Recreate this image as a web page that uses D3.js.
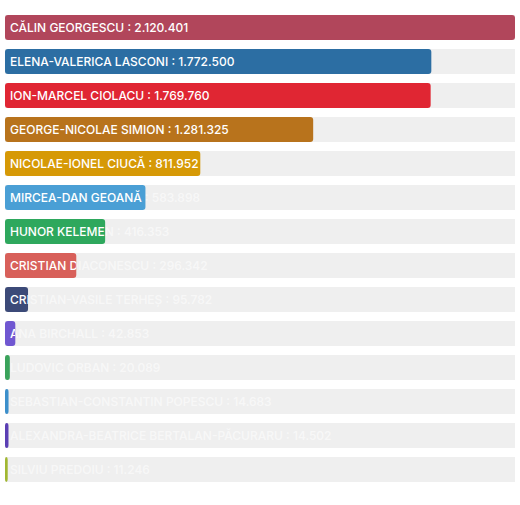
<!DOCTYPE html>
<html>
<head>
<meta charset="utf-8">
<script src="https://cdn.jsdelivr.net/npm/d3@7"></script>
<style>
  body { margin: 0; background: #fff; }
  svg { display: block; }
</style>
</head>
<body>
<svg width="520" height="505"></svg>
<script>
// candidates, votes, bar colours (top to bottom)
var names = [
  "CĂLIN GEORGESCU", "ELENA-VALERICA LASCONI", "ION-MARCEL CIOLACU",
  "GEORGE-NICOLAE SIMION", "NICOLAE-IONEL CIUCĂ", "MIRCEA-DAN GEOANĂ",
  "HUNOR KELEMEN", "CRISTIAN DIACONESCU", "CRISTIAN-VASILE TERHEȘ",
  "ANA BIRCHALL", "LUDOVIC ORBAN", "SEBASTIAN-CONSTANTIN POPESCU",
  "ALEXANDRA-BEATRICE BERTALAN-PĂCURARU", "SILVIU PREDOIU"
];
var votes = [2120401, 1772500, 1769760, 1281325, 811952, 583898, 416353,
  296342, 95782, 42853, 20089, 14683, 14502, 11246];
var colors = ["#b1465b", "#2c6ea3", "#e02633", "#b8731c", "#d69906", "#4a9fd5",
  "#2ea85d", "#d8605a", "#3c4a78", "#7057d1", "#3aa35b", "#3c8fcb",
  "#5b3fb4", "#a1b731"];

var svg = d3.select("svg");

var x = d3.scaleLinear()
    .domain([0, d3.max(votes)])
    .range([0, 510]);

// 34px per row, 25px bar
var y = d3.scaleBand()
    .domain(d3.range(names.length))
    .range([15, 15 + 34 * names.length - 9])
    .paddingInner(9 / 34)
    .paddingOuter(0);

var fmt = function(v) { return d3.format(",")(v).replace(/,/g, "."); };
var label = function(i) { return names[i] + " : " + fmt(votes[i]); };

var defs = svg.append("defs");
defs.selectAll("clipPath")
    .data(d3.range(names.length))
    .enter().append("clipPath")
    .attr("id", function(i) { return "bar-clip-" + i; })
    .append("rect")
    .attr("width", function(i) { return x(votes[i]); })
    .attr("height", y.bandwidth());

var row = svg.selectAll("g.row")
    .data(d3.range(names.length))
    .enter().append("g")
    .attr("class", "row")
    .attr("transform", function(i) { return "translate(5," + y(i) + ")"; });

function addText(sel) {
    return sel.append("text")
        .attr("x", 5)
        .attr("y", y.bandwidth() / 2)
        .attr("dy", "0.36em")
        .attr("fill", "#fff")
        .style("font-family", "Inter, Roboto, sans-serif")
        .style("font-size", "12px")
        .style("font-weight", 500)
        .text(label);
}

row.append("rect")
    .attr("width", x.range()[1])
    .attr("height", y.bandwidth())
    .attr("fill", "#efefef");

// faint copy over the grey track, hidden under the bar
addText(row).attr("fill-opacity", 0.55);

row.append("rect")
    .attr("width", function(i) { return x(votes[i]); })
    .attr("height", y.bandwidth())
    .attr("rx", 3)
    .attr("fill", function(i) { return colors[i]; });

addText(row)
    .attr("clip-path", function(i) { return "url(#bar-clip-" + i + ")"; });
</script>
</body>
</html>
